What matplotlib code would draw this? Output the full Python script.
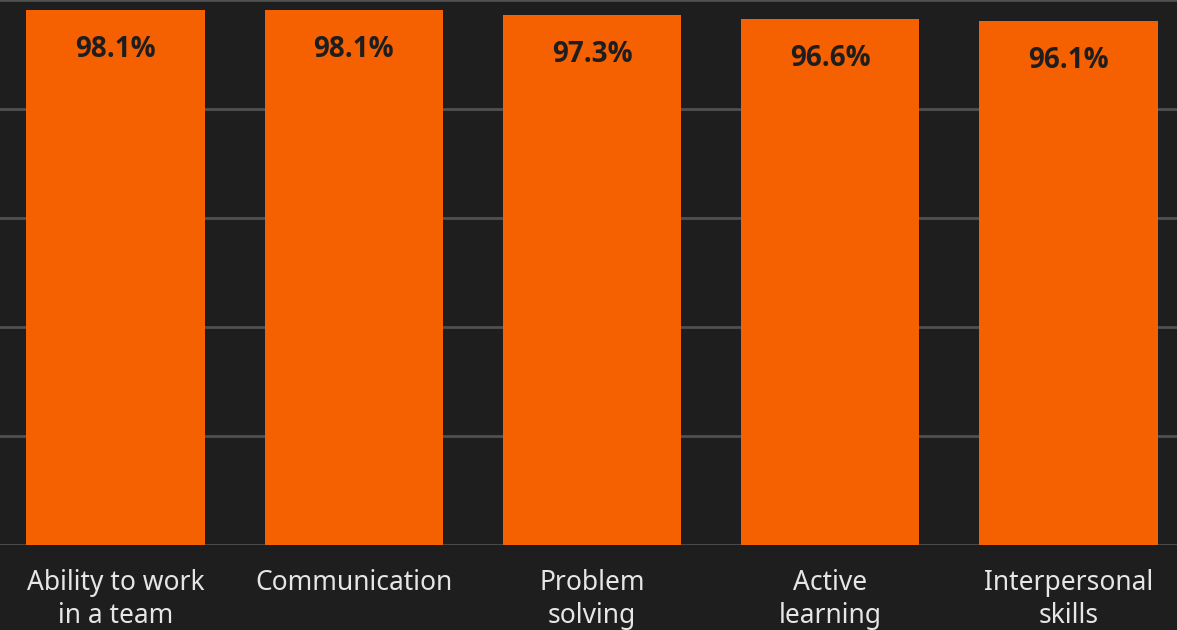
import matplotlib
matplotlib.use("Agg")
import matplotlib.pyplot as plt

categories = ["Ability to work\nin a team", "Communication", "Problem\nsolving",
              "Active\nlearning", "Interpersonal\nskills"]
values = [98.1, 98.1, 97.3, 96.6, 96.1]
value_labels = ["98.1%", "98.1%", "97.3%", "96.6%", "96.1%"]
yticks = [0, 20, 40, 60, 80, 100]

BG = "#1e1e1e"
ORANGE = "#f56000"
GRID = "#505050"
TEXT_LIGHT = "#e6e6e6"
TEXT_DARK = "#1e1e1e"

fig = plt.figure(figsize=(11.77, 6.30), dpi=100, facecolor=BG)
ax = fig.add_axes([0, 85 / 630, 1, 545 / 630])
ax.set_facecolor(BG)

x = list(range(len(categories)))
ax.bar(x, values, width=0.748, color=ORANGE, zorder=3)

for xi, v, lab in zip(x, values, value_labels):
    ax.annotate(lab, (xi, v), xytext=(0, -28.5), textcoords="offset points",
                ha="center", va="center", fontsize=20, fontweight="bold",
                color=TEXT_DARK, family=["Open Sans", "DejaVu Sans"], zorder=4)

ax.set_xlim(-0.485, 4.455)
ax.set_ylim(0, 100)
ax.set_yticks(yticks)
ax.yaxis.grid(True, color=GRID, linewidth=2, zorder=0)
ax.tick_params(axis="y", left=False, labelleft=False)
ax.set_xticks(x)
ax.set_xticklabels(categories, fontsize=19, color=TEXT_LIGHT,
                   family=["Noto Sans", "DejaVu Sans"], linespacing=1.25)
ax.tick_params(axis="x", length=0, pad=17)
for s in ax.spines.values():
    s.set_visible(False)

fig.savefig("out.png", dpi=100, facecolor=BG)
